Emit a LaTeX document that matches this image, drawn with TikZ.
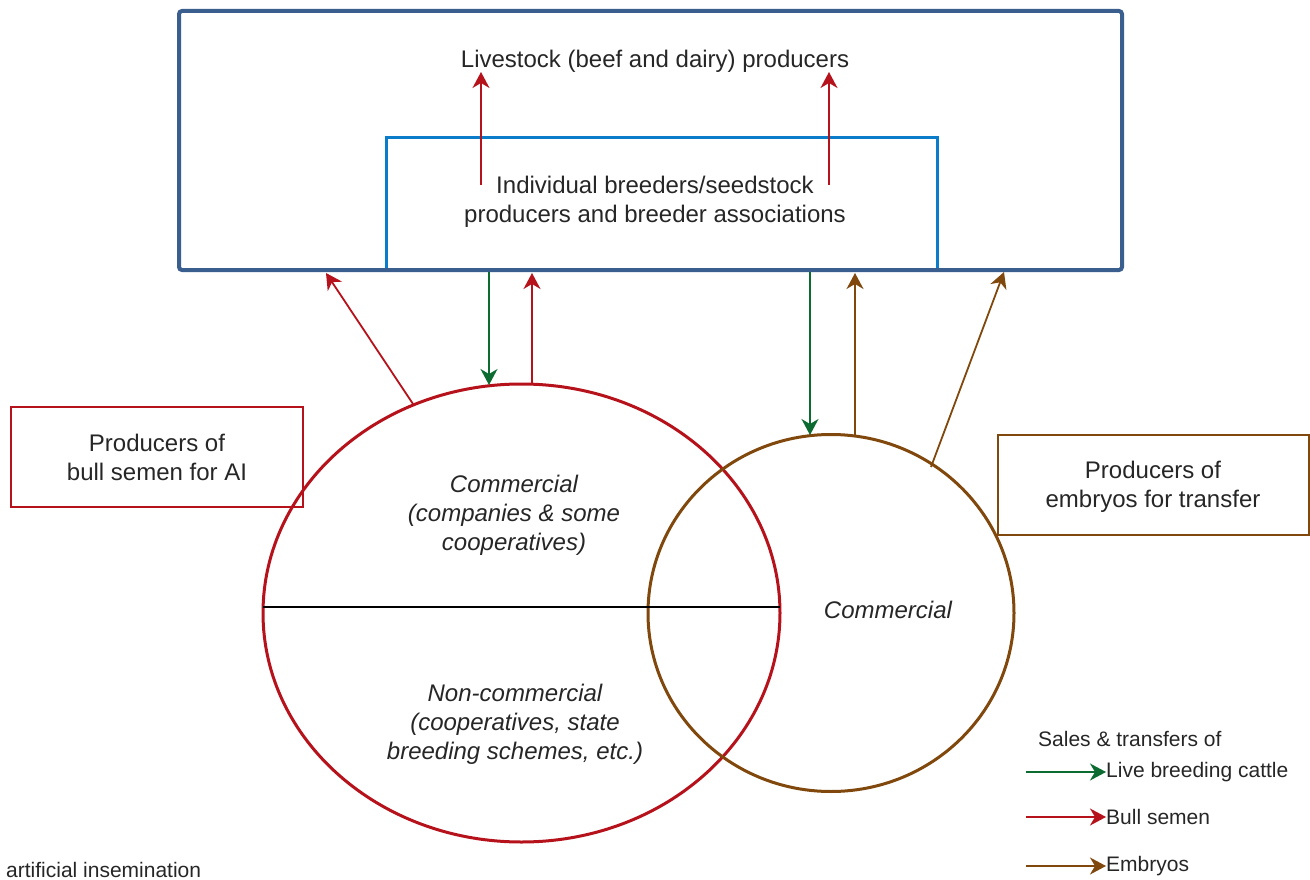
\documentclass[tikz,border=0pt]{standalone}
\usepackage{fontspec}
\setmainfont{Liberation Sans}
\usetikzlibrary{arrows.meta,shapes.geometric}
\definecolor{outerblue}{HTML}{3A5F8F}
\definecolor{innerblue}{HTML}{0A7CC9}
\definecolor{semred}{HTML}{B5121B}
\definecolor{cattlegreen}{HTML}{0B6B30}
\definecolor{embbrown}{HTML}{80480C}
\tikzset{
  main/.style={font=\fontsize{24}{29}\selectfont, text=black!85, align=center, inner sep=0},
  legend/.style={font=\fontsize{21}{25}\selectfont, text=black!85, inner sep=0},
  tipx/.style={-{Stealth[length=16pt,width=17pt,inset=5pt]}},
  semen/.style={tipx, draw=semred, fill=semred, line width=1.8pt},
  cattle/.style={tipx, draw=cattlegreen, fill=cattlegreen, line width=1.6pt},
  embryo/.style={tipx, draw=embbrown, fill=embbrown, line width=1.8pt},
}
\begin{document}
\begin{tikzpicture}[x=1pt,y=-1pt]
\useasboundingbox (0,0) rectangle (1310,880);
% boxes
\node[draw=innerblue, line width=3pt, minimum width=551pt, minimum height=132pt, inner sep=0] (inner) at (661.5,204) {};
\node[draw=outerblue, line width=4pt, rounded corners=3pt, minimum width=943pt, minimum height=259pt, inner sep=0] (outer) at (650.5,140.5) {};
\node[main] (livetxt) at (655,61) {Livestock (beef and dairy) producers};
\node[main] (indtxt) at (655,202) {Individual breeders/seedstock\\producers and breeder associations};
% arrows inside box
\coordinate (i1s) at (481,185); \coordinate (i1e) at (481,72);
\coordinate (i2s) at (829,185); \coordinate (i2e) at (829,72);
\draw[semen] (i1s) -- (i1e);
\draw[semen] (i2s) -- (i2e);
% ellipses
\node[draw=semred, line width=3pt, ellipse, minimum width=517pt, minimum height=458pt, inner sep=0] (redE) at (521.5,613) {};
\node[draw=embbrown, line width=3pt, ellipse, minimum width=366pt, minimum height=357pt, inner sep=0] (brownE) at (831,613) {};
\coordinate (divL) at (263,607); \coordinate (divR) at (780,607);
\draw[line width=2pt, black] (divL) -- (divR);
\node[main, font=\fontsize{24}{29}\selectfont\itshape] (comm1) at (514,515) {Commercial\\(companies \& some\\cooperatives)};
\node[main, font=\fontsize{24}{29}\selectfont\itshape] (noncomm) at (515,724) {Non-commercial\\(cooperatives, state\\breeding schemes, etc.)};
\node[main, font=\fontsize{24}{29}\selectfont\itshape] (comm2) at (888,610) {Commercial};
% side boxes
\node[draw=semred, line width=2pt, minimum width=292pt, minimum height=100pt, main] (aibox) at (157,457) {Producers of\\bull semen for AI};
\node[draw=embbrown, line width=2pt, minimum width=311pt, minimum height=100pt, main] (etbox) at (1153,485) {};
\node[main] (ettxt) at (1153,487) {Producers of\\embryos for transfer};
% connectors between ellipses and box
\coordinate (a1s) at (413,404); \coordinate (a1e) at (326,273);
\coordinate (a2s) at (489,272); \coordinate (a2e) at (489,385);
\coordinate (a3s) at (532,383); \coordinate (a3e) at (532,273);
\coordinate (a4s) at (810,272); \coordinate (a4e) at (810,435);
\coordinate (a5s) at (855,436); \coordinate (a5e) at (855,273);
\coordinate (a6s) at (931,467); \coordinate (a6e) at (1004,272);
\draw[semen] (a1s) -- (a1e);
\draw[cattle] (a2s) -- (a2e);
\draw[semen] (a3s) -- (a3e);
\draw[cattle] (a4s) -- (a4e);
\draw[embryo] (a5s) -- (a5e);
\draw[embryo] (a6s) -- (a6e);
% legend
\node[legend, anchor=west] (lgtitle) at (1038,739) {Sales \& transfers of};
\node[legend, anchor=west] (lg1) at (1106,772) {Live breeding cattle};
\node[legend, anchor=west] (lg2) at (1106,817) {Bull semen};
\node[legend, anchor=west] (lg3) at (1106,866) {Embryos};
\coordinate (l1s) at (1026,772); \coordinate (l2s) at (1026,817); \coordinate (l3s) at (1026,866);
\draw[cattle] (l1s) -- (lg1.west);
\draw[semen] (l2s) -- (lg2.west);
\draw[embryo] (l3s) -- (lg3.west);
\node[legend, anchor=base west] (footnote) at (6,877) {artificial insemination};
\end{tikzpicture}
\end{document}
